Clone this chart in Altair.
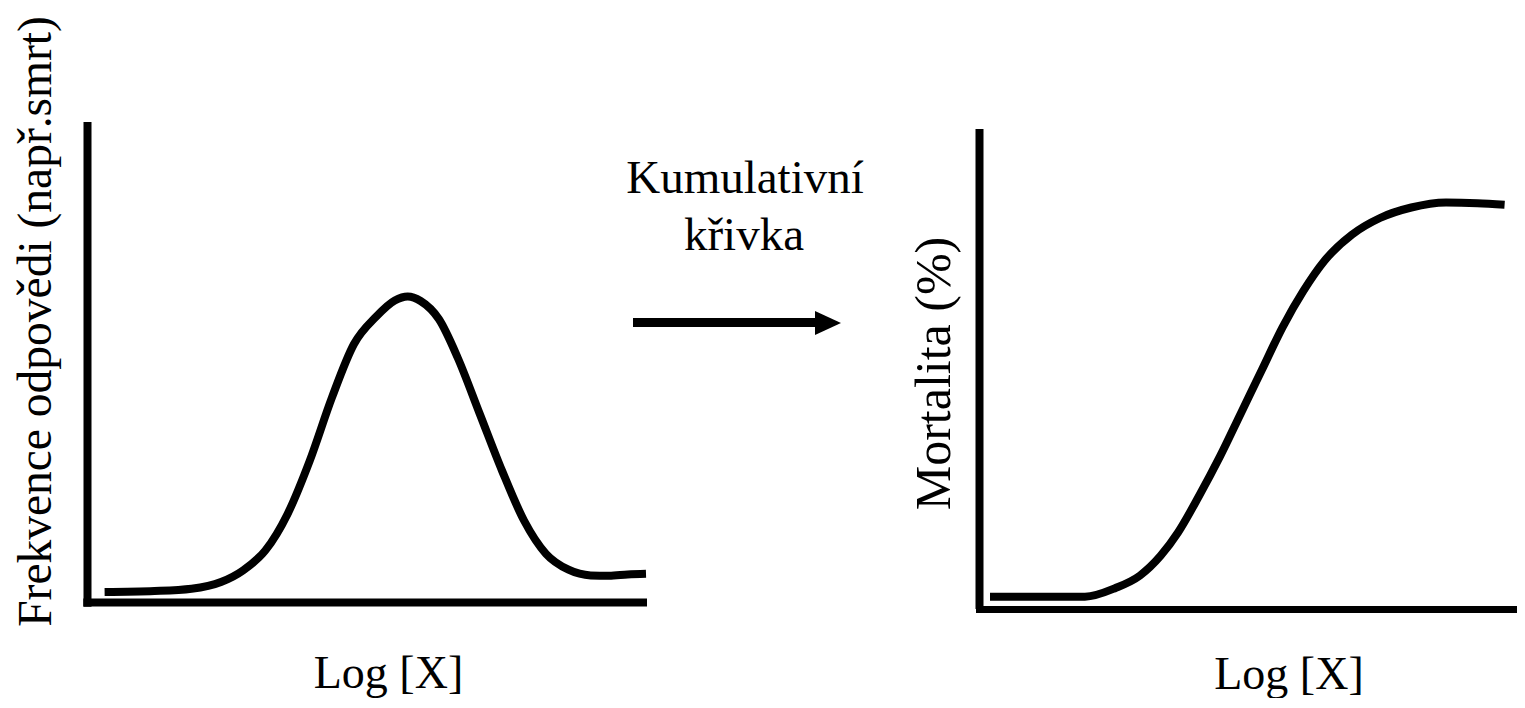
import altair as alt
import pandas as pd

# ---- data (page pixel units) ----
freq_x = [104.6, 154.5, 191.5, 221, 243, 265.4, 287.6, 309.8, 332, 354, 376.3, 394.8,
          407.7, 420.6, 439, 457.6, 479.8, 502, 524, 546, 568.5, 590.7, 609, 627.6, 646]
freq_y = [592, 591, 588.7, 582, 570.4, 550.4, 513.9, 460.6, 397.4, 344, 316.5, 300.5,
          296.5, 301, 319.3, 357.5, 414, 470.6, 520.5, 553.8, 569.7, 575.4, 575.7, 574.4, 573.7]

cum_x = [990, 1084.9, 1115.5, 1139.9, 1160.7, 1178, 1199, 1220, 1240.8, 1261.7, 1282.5,
         1303.4, 1324.3, 1352, 1380, 1411.3, 1446, 1477.4, 1504.6]
cum_y = [596.7, 596.7, 588, 575.6, 555.7, 532.5, 496, 456.4, 413.4, 370.3, 327.3,
         290.9, 261, 234.6, 218, 207.5, 202.5, 203.2, 204.8]

label_freq = "Frekvence odpovědi (např.smrt)"
label_mort = "Mortalita (%)"
label_log = "Log [X]"
label_cum1 = "Kumulativní"
label_cum2 = "křivka"

FONT = "Liberation Serif"
W, H = 1509, 690
xs = alt.Scale(domain=[8, 8 + W], range=[0, W], nice=False, zero=False)
ys = alt.Scale(domain=[8 + H, 8], nice=False, zero=False)


def curve(xv, yv):
    df = pd.DataFrame({"x": xv, "y": yv, "o": range(len(xv))})
    return alt.Chart(df).mark_line(color="black", strokeWidth=8, interpolate="monotone",
                                   strokeCap="butt").encode(
        x=alt.X("x:Q", scale=xs, axis=None),
        y=alt.Y("y:Q", scale=ys, axis=None),
        order="o:Q")


def seg(x1, y1, x2, y2, w=8):
    return alt.Chart(pd.DataFrame({"a": [0]})).mark_rule(color="black", strokeWidth=w,
                                                       strokeCap="butt").encode(
        x=alt.XDatum(x1, scale=xs, axis=None), x2=alt.X2Datum(x2),
        y=alt.YDatum(y1, scale=ys, axis=None), y2=alt.Y2Datum(y2))


def label(t, x, y, size, angle=0):
    return alt.Chart(pd.DataFrame({"t": [t]})).mark_text(
        font=FONT, fontSize=size, angle=angle, align="center", baseline="alphabetic",
        color="black").encode(
        x=alt.XDatum(x, scale=xs, axis=None),
        y=alt.YDatum(y, scale=ys, axis=None),
        text="t:N")


arrow_head = alt.Chart(pd.DataFrame({"a": [0]})).mark_point(
    shape="M-1,-0.92L1,0L-1,0.92Z", size=676, filled=True, color="black",
    opacity=1, strokeWidth=0).encode(
    x=alt.XDatum(828, scale=xs, axis=None),
    y=alt.YDatum(323, scale=ys, axis=None))

layers = [
    # left panel axes
    seg(87.5, 122, 87.5, 606.7),
    seg(83.3, 602.5, 647, 602.5),
    # right panel axes
    seg(979.5, 129, 979.5, 609),
    seg(976, 609.5, 1530, 609.5, 7),
    curve(freq_x, freq_y),
    curve(cum_x, cum_y),
    # arrow
    seg(633, 322.5, 818, 322.5, 9),
    arrow_head,
    label(label_freq, 51, 321.5, 47.5, 270),
    label(label_mort, 950, 373.5, 50, 270),
    label(label_log, 388.5, 688, 46),
    label(label_log, 1289, 688.5, 46),
    label(label_cum1, 745, 193, 47),
    label(label_cum2, 744, 250, 47),
]

chart = alt.layer(*layers).properties(
    width=W, height=H, padding=0, autosize=alt.AutoSizeParams(type="none")
).configure_view(stroke=None)

chart.save("out.html", embed_options={"renderer": "svg", "actions": False})
